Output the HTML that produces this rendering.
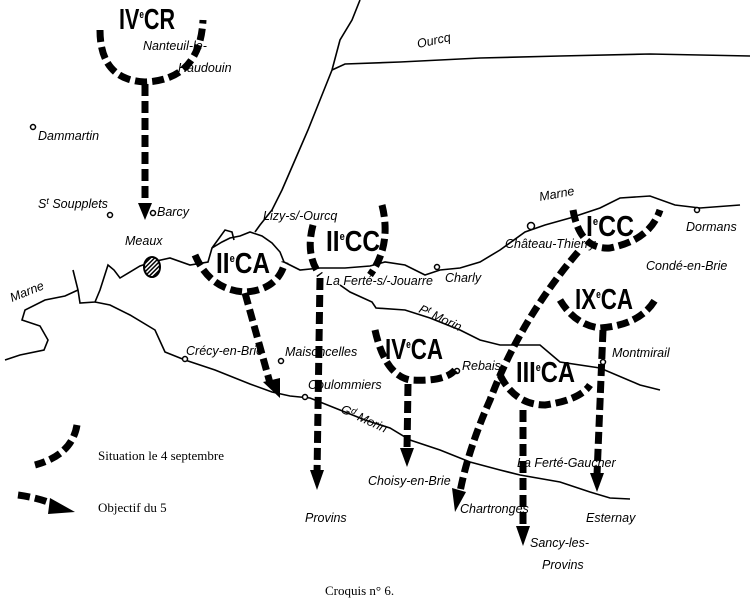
<!DOCTYPE html>
<html><head><meta charset="utf-8"><style>
html,body{margin:0;padding:0;background:#fff}
svg{display:block}
.l{font-family:"Liberation Sans",sans-serif;font-style:italic;font-size:12.5px;fill:#000}
.u{font-family:"Liberation Sans",sans-serif;font-weight:bold;font-size:29px;fill:#000}
.s{font-family:"Liberation Serif",serif;font-size:13px;fill:#000}
.r{fill:none;stroke:#000;stroke-width:1.6}
.d{fill:none;stroke:#000;stroke-width:7;stroke-dasharray:12 5}
</style></head><body>
<svg width="750" height="608" viewBox="0 0 750 608" xmlns="http://www.w3.org/2000/svg">
<defs><pattern id="h" width="3" height="3" patternUnits="userSpaceOnUse" patternTransform="rotate(45)"><rect width="3" height="3" fill="#fff"/><rect width="1.5" height="3" fill="#000"/></pattern></defs>
<path class="r" d="M360 0 L352 20 L340 40 L332 70 L320 100 L308 130 L295 160 L282 190 L272 210 L260 225 L255 232"/>
<path class="r" d="M332 70 L345 64 L400 62 L480 58 L560 56 L650 54 L750 56"/>
<path class="r" d="M73 270 L78 290 L80 303 L95 302 L100 290 L108 265 L114 270 L120 278 L140 266 L152 262 L170 258 L190 265 L208 262 L212 248 L222 242 L230 238 L240 236 L250 232 L262 236 L272 243 L280 252 L284 262 L300 270 L320 268 L345 268 L370 266 L385 262 L405 265 L425 275 L440 270 L460 268 L480 262 L500 250 L525 232 L545 225 L570 218 L600 208 L620 198 L650 196 L675 205 L700 208 L740 205"/>
<path class="r" d="M78 290 L65 296 L45 300 L25 310 L22 320 L40 326 L48 340 L44 350 L20 355 L5 360"/>
<path class="r" d="M95 302 L110 305 L130 315 L155 330 L165 352 L185 360 L215 370 L250 384 L272 392 L290 396 L310 398 L340 410 L365 420 L390 428 L410 440 L440 450 L470 462 L500 470 L520 475 L560 482 L590 492 L610 498 L630 499"/>
<path class="r" d="M340 285 L350 292 L372 302 L376 308 L405 310 L430 318 L460 330 L480 340 L500 345 L540 345 L560 362 L600 368 L640 385 L660 390"/>
<path class="r" d="M212 248 L225 230 L232 232 L234 240"/>
<g fill="#fff" stroke="#000" stroke-width="1.5">
<circle cx="33" cy="127" r="2.5"/><circle cx="110" cy="215" r="2.5"/><circle cx="153" cy="213" r="2.5"/>
<circle cx="305" cy="397" r="2.5"/><circle cx="281" cy="361" r="2.5"/><circle cx="185" cy="359" r="2.5"/>
<circle cx="437" cy="267" r="2.5"/><circle cx="531" cy="226" r="3.5"/><circle cx="697" cy="210" r="2.5"/>
<circle cx="457" cy="371" r="2.5"/><circle cx="603" cy="362" r="2.5"/>
</g>
<ellipse cx="152" cy="267" rx="8" ry="10" fill="url(#h)" stroke="#000" stroke-width="2"/>
<path class="d" d="M100 30 Q100 80 145 82 Q200 80 203 20"/>
<path class="d" d="M195 255 Q210 290 245 292 Q278 290 285 262"/>
<path class="d" d="M313 225 Q305 255 320 275"/>
<path class="d" d="M382 205 Q392 245 370 275"/>
<path class="d" d="M573 210 Q580 250 610 248 Q650 240 660 210"/>
<path class="d" d="M560 300 Q575 325 600 328 Q640 325 655 300"/>
<path class="d" d="M375 330 Q385 375 410 380 Q445 382 455 370"/>
<path class="d" d="M500 375 Q515 405 545 405 Q580 400 590 385"/>
<path class="d" d="M145 84 L145 205"/><path d="M138 203 L152 203 L145 220Z"/>
<path class="d" d="M245 293 L270 383"/><path d="M263 382 L280 378 L280 398Z"/>
<path class="d" d="M320 278 L317 475"/><path d="M310 470 L324 470 L317 490Z"/>
<path class="d" d="M408 384 L407 450"/><path d="M400 448 L414 448 L407 467Z"/>
<path class="d" d="M603 330 L597 475"/><path d="M590 473 L604 473 L597 492Z"/>
<path class="d" d="M523 410 L523 528"/><path d="M516 526 L530 526 L523 546Z"/>
<path class="d" d="M578 252 Q520 320 490 400 Q468 450 460 492"/><path d="M452 488 L466 492 L455 512Z"/>
<path class="d" d="M77 425 Q72 455 35 465"/>
<path class="d" d="M18 495 Q40 498 55 505"/><path d="M50 498 L75 512 L48 514Z"/>
<text class="u" x="119" y="29" textLength="56" lengthAdjust="spacingAndGlyphs">IV<tspan font-size="11" dy="-11">e</tspan><tspan dy="11">CR</tspan></text>
<text class="u" x="216" y="273" textLength="54" lengthAdjust="spacingAndGlyphs">II<tspan font-size="11" dy="-11">e</tspan><tspan dy="11">CA</tspan></text>
<text class="u" x="326" y="251" textLength="54" lengthAdjust="spacingAndGlyphs">II<tspan font-size="11" dy="-11">e</tspan><tspan dy="11">CC</tspan></text>
<text class="u" x="586" y="236" textLength="48" lengthAdjust="spacingAndGlyphs">I<tspan font-size="11" dy="-11">e</tspan><tspan dy="11">CC</tspan></text>
<text class="u" x="575" y="309" textLength="58" lengthAdjust="spacingAndGlyphs">IX<tspan font-size="11" dy="-11">e</tspan><tspan dy="11">CA</tspan></text>
<text class="u" x="385" y="359" textLength="58" lengthAdjust="spacingAndGlyphs">IV<tspan font-size="11" dy="-11">e</tspan><tspan dy="11">CA</tspan></text>
<text class="u" x="516" y="382" textLength="59" lengthAdjust="spacingAndGlyphs">III<tspan font-size="11" dy="-11">e</tspan><tspan dy="11">CA</tspan></text>
<text class="l" x="143" y="50">Nanteuil-le-</text>
<text class="l" x="178" y="72">Haudouin</text>
<text class="l" x="38" y="140">Dammartin</text>
<text class="l" x="38" y="208">S<tspan font-size="9" dy="-4">t</tspan><tspan dy="4"> Soupplets</tspan></text>
<text class="l" x="157" y="216">Barcy</text>
<text class="l" x="125" y="245">Meaux</text>
<text class="l" x="12" y="302" transform="rotate(-22 12 302)">Marne</text>
<text class="l" x="263" y="220">Lizy-s/-Ourcq</text>
<text class="l" x="418" y="48" transform="rotate(-12 418 48)">Ourcq</text>
<text class="l" x="326" y="285">La Ferté-s/-Jouarre</text>
<text class="l" x="445" y="282">Charly</text>
<text class="l" x="540" y="201" transform="rotate(-10 540 201)">Marne</text>
<text class="l" x="505" y="248">Château-Thierry</text>
<text class="l" x="686" y="231">Dormans</text>
<text class="l" x="646" y="270">Condé-en-Brie</text>
<text class="l" x="418" y="312" transform="rotate(25 418 312)">P<tspan font-size="9" dy="-4">t</tspan><tspan dy="4"> Morin</tspan></text>
<text class="l" x="462" y="370">Rebais</text>
<text class="l" x="612" y="357">Montmirail</text>
<text class="l" x="186" y="355">Crécy-en-Brie</text>
<text class="l" x="285" y="356">Maisoncelles</text>
<text class="l" x="308" y="389">Coulommiers</text>
<text class="l" x="340" y="412" transform="rotate(25 340 412)">G<tspan font-size="9" dy="-4">d</tspan><tspan dy="4"> Morin</tspan></text>
<text class="l" x="368" y="485">Choisy-en-Brie</text>
<text class="l" x="460" y="513">Chartronges</text>
<text class="l" x="517" y="467">La Ferté-Gaucher</text>
<text class="l" x="586" y="522">Esternay</text>
<text class="l" x="530" y="547">Sancy-les-</text>
<text class="l" x="542" y="569">Provins</text>
<text class="l" x="305" y="522">Provins</text>
<text class="s" x="98" y="460">Situation le 4 septembre</text>
<text class="s" x="98" y="512">Objectif du 5</text>
<text class="s" x="325" y="595">Croquis n° 6.</text>
</svg>
</body></html>
